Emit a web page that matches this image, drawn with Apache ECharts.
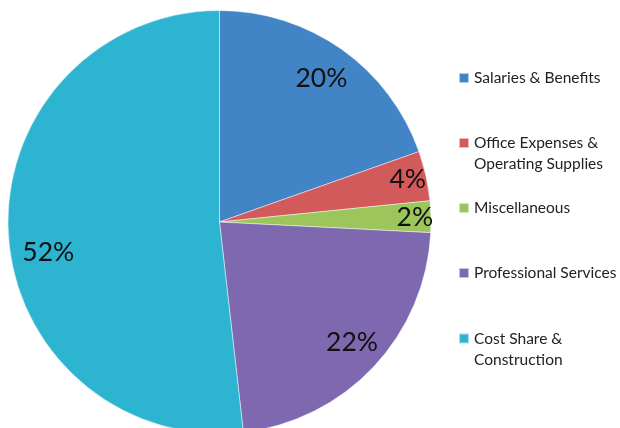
<!DOCTYPE html>
<html>
<head>
<meta charset="utf-8">
<script src="https://cdn.jsdelivr.net/npm/echarts@6/dist/echarts.min.js"></script>
<style>
  html, body { margin: 0; padding: 0; background: #fff; }
  #chart { width: 620px; height: 428px; }
</style>
</head>
<body>
<div id="chart"></div>
<script>
// Budget split (clockwise from 12 o'clock)
const categories = [
  'Salaries & Benefits',
  'Office Expenses &\nOperating Supplies',
  'Miscellaneous',
  'Professional Services',
  'Cost Share &\nConstruction',
];
const shares    = [19.6, 3.8, 2.4, 22.4, 51.8];
const pctLabels = ['20%', '4%', '2%', '22%', '52%'];
const colors    = ['#4285c6', '#d35a5b', '#9cc55b', '#7e68b0', '#2db4d0'];

const FONT = 'Lato, "Open Sans", sans-serif';
const CX = 219.5, CY = 222, R = 211.5;

// label nudges, Excel "best fit" pushes the thin slices outward
const labelOffsets = [[0, 0], [16, -4], [19, 0], [4, 0], [5, 20]];

// one legend per entry: Excel spaces them unevenly
const legendTops = [67.5, 111.5, 197.5, 262.5, 307];
const LINE_H = 21;

const chart = echarts.init(document.getElementById('chart'), null, { renderer: 'canvas' });

const legends = categories.map((name, i) => ({
  left: 458,
  top: legendTops[i],
  padding: 0,
  orient: 'vertical',
  icon: 'rect',
  itemWidth: 10,
  itemHeight: 10,
  selectedMode: false,
  data: [name],
  // two-line entries: pad a blank line on top so the marker sits level
  // with the first line, like Excel does
  formatter: n => (n.includes('\n') ? ' \n' + n : n),
  textStyle: {
    fontFamily: FONT,
    fontSize: 15.5,
    color: '#222',
    lineHeight: LINE_H,
  },
}));

chart.setOption({
  animation: false,
  legend: legends,
  series: [
    {
      type: 'pie',
      center: [CX, CY],
      radius: R,
      startAngle: 90,
      clockwise: true,
      silent: true,
      label: { show: false },
      labelLine: { show: false },
      itemStyle: { borderColor: 'rgba(255,255,255,0.6)', borderWidth: 0.8 },
      data: categories.map((name, i) => ({
        name, value: shares[i], itemStyle: { color: colors[i] },
      })),
    },
    {
      // transparent ring, only here to hold the % labels at ~0.82r
      type: 'pie',
      center: [CX, CY],
      radius: [R * 0.64, R],
      startAngle: 90,
      clockwise: true,
      silent: true,
      legendHoverLink: false,
      itemStyle: { color: 'rgba(0,0,0,0)' },
      labelLine: { show: false },
      label: {
        show: true,
        position: 'inside',
        fontFamily: FONT,
        fontSize: 26.5,
        color: '#111',
      },
      data: categories.map((name, i) => ({
        name: name + ' ',
        value: shares[i],
        label: { formatter: pctLabels[i], offset: labelOffsets[i] },
      })),
    },
  ],
});
</script>
</body>
</html>
